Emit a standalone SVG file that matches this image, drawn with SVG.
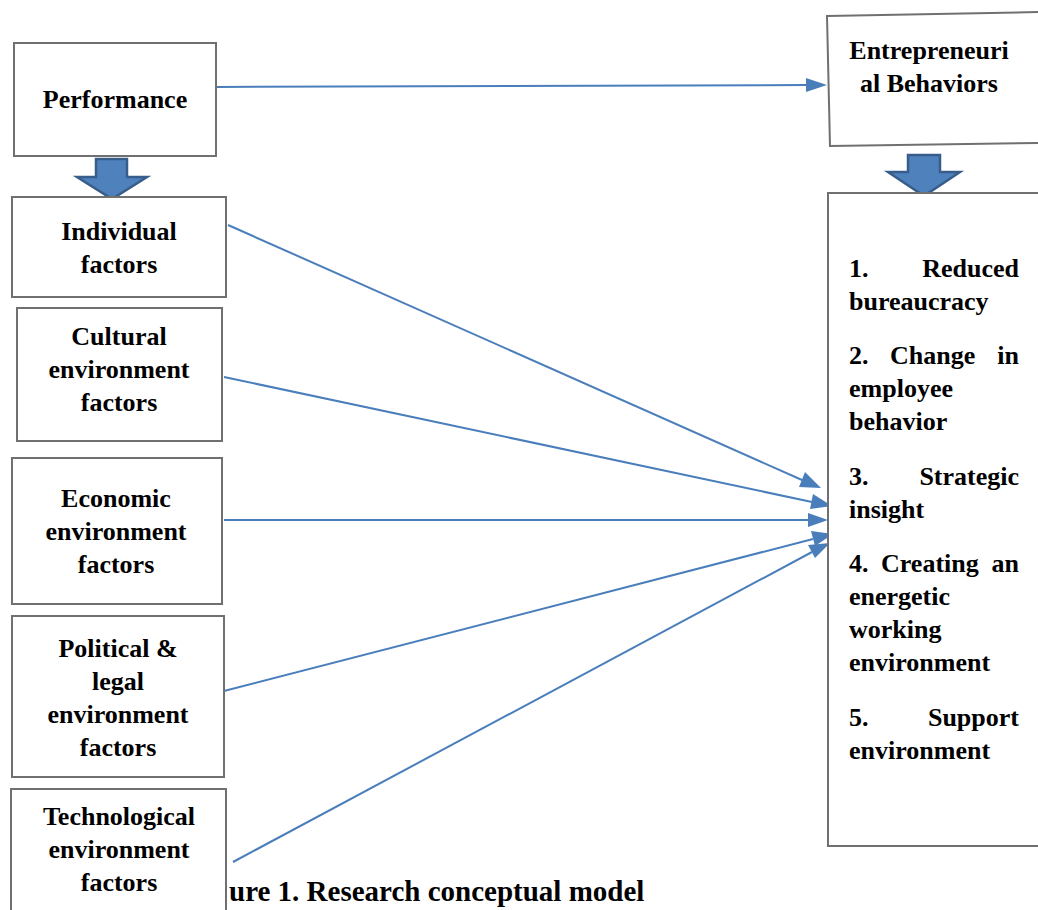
<svg xmlns="http://www.w3.org/2000/svg" width="1038" height="910" viewBox="0 0 1038 910">
  <style>
    .box { fill: #ffffff; stroke: #707070; stroke-width: 2; }
    .lbl { font-family: "Liberation Serif", "Times New Roman", serif; font-weight: bold; font-size: 26px; fill: #000000; }
    .mid { text-anchor: middle; }
    .end { text-anchor: end; }
    .conn { fill: none; stroke: #4a7ebb; stroke-width: 2; }
    .tip { fill: #4a7ebb; }
    .block { fill: #4f81bd; stroke: #385d8a; stroke-width: 2.5; stroke-linejoin: miter; }
  </style>

  <rect width="1038" height="910" fill="#ffffff"/>

  <!-- caption (partly hidden behind the last factor box) -->
  <text class="lbl" x="229" y="901" style="font-size:29px">ure 1. Research conceptual model</text>

  <!-- connectors -->
  <g id="connectors">
    <line class="conn" x1="217" y1="87" x2="806" y2="85"/>
    <path class="tip" d="M806,78 L827,85 L806,92 z"/>

    <line class="conn" x1="228" y1="225" x2="802" y2="480"/>
    <path class="tip" d="M805,472 L821,488 L799,487 z"/>

    <line class="conn" x1="224" y1="377" x2="812" y2="502"/>
    <path class="tip" d="M813,494 L832,506 L810,509 z"/>

    <line class="conn" x1="224" y1="520" x2="808" y2="520"/>
    <path class="tip" d="M808,513 L828,520 L808,527 z"/>

    <line class="conn" x1="224" y1="691" x2="813" y2="539"/>
    <path class="tip" d="M811,531 L833,534 L815,546 z"/>

    <line class="conn" x1="233" y1="862" x2="812" y2="552"/>
    <path class="tip" d="M808,545 L830,543 L815,558 z"/>
  </g>

  <!-- block arrows -->
  <g id="arrow-performance">
    <path class="block" d="M96,159 L127,159 L127,177 L147,177 L112,199 L77,177 L96,177 z"/>
  </g>
  <g id="arrow-entrepreneurial">
    <path class="block" d="M908,155 L940,155 L940,172 L960,172 L924,196 L888,172 L908,172 z"/>
  </g>

  <!-- nodes -->
  <g id="performance">
    <rect class="box" x="14" y="43" width="202" height="113"/>
    <text class="lbl mid" x="115" y="108">Performance</text>
  </g>

  <g id="entrepreneurial-behaviors">
    <path class="box" d="M827,16 L1040,12 L1040,143 L830,146 z"/>
    <text class="lbl mid" x="929" y="59">Entrepreneuri</text>
    <text class="lbl mid" x="929" y="92">al Behaviors</text>
  </g>

  <g id="individual">
    <rect class="box" x="12" y="197" width="214" height="100"/>
    <text class="lbl mid" x="119" y="240">Individual</text>
    <text class="lbl mid" x="119" y="273">factors</text>
  </g>

  <g id="cultural">
    <rect class="box" x="17" y="308" width="205" height="133"/>
    <text class="lbl mid" x="119" y="345">Cultural</text>
    <text class="lbl mid" x="119" y="378">environment</text>
    <text class="lbl mid" x="119" y="411">factors</text>
  </g>

  <g id="economic">
    <rect class="box" x="12" y="458" width="210" height="146"/>
    <text class="lbl mid" x="116" y="507">Economic</text>
    <text class="lbl mid" x="116" y="540">environment</text>
    <text class="lbl mid" x="116" y="573">factors</text>
  </g>

  <g id="political-legal">
    <rect class="box" x="12" y="616" width="212" height="161"/>
    <text class="lbl mid" x="118" y="657">Political &amp;</text>
    <text class="lbl mid" x="118" y="690">legal</text>
    <text class="lbl mid" x="118" y="723">environment</text>
    <text class="lbl mid" x="118" y="756">factors</text>
  </g>

  <g id="technological">
    <rect class="box" x="11" y="789" width="215" height="130"/>
    <text class="lbl mid" x="119" y="825">Technological</text>
    <text class="lbl mid" x="119" y="858">environment</text>
    <text class="lbl mid" x="119" y="891">factors</text>
  </g>

  <g id="behavior-outcomes">
    <rect class="box" x="828" y="193" width="214" height="653"/>
    <text class="lbl" x="849" y="277">1.</text>
    <text class="lbl end" x="1019" y="277">Reduced</text>
    <text class="lbl" x="849" y="310">bureaucracy</text>

    <text class="lbl" x="849" y="364">2.</text>
    <text class="lbl" x="890" y="364">Change</text>
    <text class="lbl end" x="1019" y="364">in</text>
    <text class="lbl" x="849" y="397">employee</text>
    <text class="lbl" x="849" y="430">behavior</text>

    <text class="lbl" x="849" y="485">3.</text>
    <text class="lbl end" x="1019" y="485">Strategic</text>
    <text class="lbl" x="849" y="518">insight</text>

    <text class="lbl" x="849" y="572">4.</text>
    <text class="lbl" x="881" y="572">Creating</text>
    <text class="lbl end" x="1019" y="572">an</text>
    <text class="lbl" x="849" y="605">energetic</text>
    <text class="lbl" x="849" y="638">working</text>
    <text class="lbl" x="849" y="671">environment</text>

    <text class="lbl" x="849" y="726">5.</text>
    <text class="lbl end" x="1019" y="726">Support</text>
    <text class="lbl" x="849" y="759">environment</text>
  </g>
</svg>
